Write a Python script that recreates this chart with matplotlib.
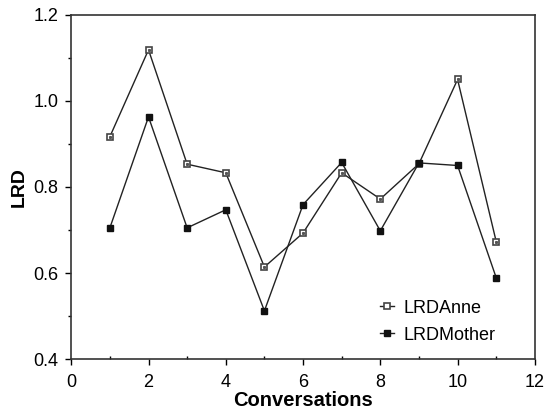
import numpy as np
import matplotlib.pyplot as plt
from matplotlib.ticker import MultipleLocator

plt.rcParams['font.family'] = ['Liberation Sans', 'DejaVu Sans']

# Data
conversations = [1, 2, 3, 4, 5, 6, 7, 8, 9, 10, 11]
lrd_anne = [0.917, 1.119, 0.853, 0.833, 0.614, 0.693, 0.833, 0.772, 0.854, 1.050, 0.673]
lrd_mother = [0.705, 0.963, 0.705, 0.747, 0.512, 0.759, 0.857, 0.698, 0.856, 0.850, 0.589]

fig = plt.figure(figsize=(5.48, 4.16), dpi=100)
ax = fig.add_axes([0.13, 0.137, 0.846, 0.827])

ax.plot(conversations, lrd_anne, color='#222222', linewidth=1.0, marker='s',
        markersize=4.5, markerfacecolor='white', markeredgecolor='#444444',
        markeredgewidth=1.2, label='LRDAnne')
# small dot inside the open markers
ax.plot(conversations, lrd_anne, linestyle='none', marker='s', markersize=1.2,
        color='#555555')
ax.plot(conversations, lrd_mother, color='#222222', linewidth=1.0, marker='s',
        markersize=5, markerfacecolor='#111111', markeredgecolor='#111111',
        label='LRDMother')

ax.set_xlim(0, 12)
ax.set_ylim(0.4, 1.2)
ax.xaxis.set_major_locator(MultipleLocator(2))
ax.xaxis.set_minor_locator(MultipleLocator(1))
ax.yaxis.set_major_locator(MultipleLocator(0.2))
ax.yaxis.set_minor_locator(MultipleLocator(0.1))
ax.tick_params(which='both', direction='out', labelsize=13, top=False, right=False)
ax.tick_params(which='major', length=4, width=1)
ax.tick_params(which='minor', length=2.5, width=1)
ax.tick_params(axis='x', which='minor', direction='in')
ax.tick_params(axis='x', which='major', pad=7)
ax.tick_params(axis='y', which='major', pad=5)

for s in ax.spines.values():
    s.set_linewidth(1.2)
    s.set_color('#333333')

ax.set_xlabel('Conversations', fontsize=14.5, fontweight='bold', labelpad=0)
ax.set_ylabel('LRD', fontsize=14, fontweight='bold', labelpad=4)

ax.legend(loc='lower left', bbox_to_anchor=(0.666, 0.045), frameon=False,
          fontsize=13, handlelength=0.8, handletextpad=0.5, labelspacing=0.55,
          borderpad=0, borderaxespad=0)

fig.savefig('out.png', dpi=100)
